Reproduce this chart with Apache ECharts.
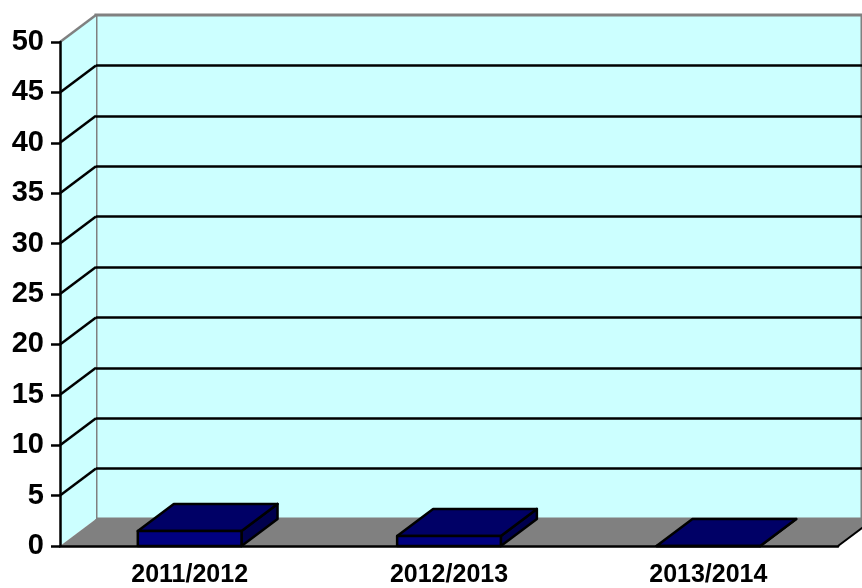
<html lang="en">

<head>
  <meta charset="UTF-8">
  <title>Chart</title>
  <style>
    body { margin: 0; background: #fff; }
    #chart { width: 862px; height: 588px; }
  </style>
</head>

<body>
  <div id="chart"></div>
  <script src="https://cdn.jsdelivr.net/npm/echarts@6.0.0/dist/echarts.min.js"></script>
  <script>
    // data
    const categories = ['2011/2012', '2012/2013', '2013/2014']
    const values = [1.5, 1.0, 0]
    const yTicks = [0, 5, 10, 15, 20, 25, 30, 35, 40, 45, 50]

    // depth offset of the fake 3d box
    const DX = 36
    const DY = -27
    const LW = 2.5
    const FONT = '"Liberation Sans", Arial, sans-serif'

    function renderFrame(params, api) {
      const cs = params.coordSys
      const v = api.value(1)
      const y = api.coord([0, v])[1]
      const x0 = cs.x
      const children = []
      if (params.dataIndex === 0) {
        const yTop = api.coord([0, yTicks[yTicks.length - 1]])[1]
        const right = cs.x + cs.width
        // left side wall
        children.push({
          type: 'polygon',
          shape: { points: [[x0, yTop], [x0 + DX, yTop + DY], [x0 + DX, y + DY], [x0, y]] },
          style: { fill: '#CCFFFF' }
        })
        // floor
        children.push({
          type: 'polygon',
          shape: { points: [[x0, y], [x0 + DX, y + DY], [right + DX, y + DY], [right, y]] },
          style: { fill: '#808080' }
        })
        children.push({
          type: 'line',
          shape: { x1: right, y1: y, x2: right + DX, y2: y + DY },
          style: { stroke: '#000', lineWidth: 2 }
        })
      } else {
        const last = params.dataIndex === yTicks.length - 1
        children.push({
          type: 'line',
          shape: { x1: x0, y1: y, x2: x0 + DX, y2: y + DY },
          style: { stroke: last ? '#808080' : '#000', lineWidth: LW }
        })
      }
      return { type: 'group', children }
    }

    function renderBar(params, api) {
      const i = api.value(0)
      const top = api.coord([i, api.value(1)])
      const base = api.coord([i, 0])
      const w = api.size([1, 0])[0] * 0.4
      const xl = top[0] - w / 2
      const xr = top[0] + w / 2
      const yt = top[1]
      const yb = base[1]
      const edge = { stroke: '#000', lineWidth: LW, lineJoin: 'round' }
      return {
        type: 'group',
        children: [
          {
            type: 'polygon',
            shape: { points: [[xr, yt], [xr + DX, yt + DY], [xr + DX, yb + DY], [xr, yb]] },
            style: Object.assign({ fill: '#00004D' }, edge)
          },
          {
            type: 'polygon',
            shape: { points: [[xl, yt], [xl + DX, yt + DY], [xr + DX, yt + DY], [xr, yt]] },
            style: Object.assign({ fill: '#000066' }, edge)
          },
          {
            type: 'rect',
            shape: { x: xl, y: yt, width: w, height: yb - yt },
            style: Object.assign({ fill: '#000080' }, edge)
          }
        ]
      }
    }

    const chart = echarts.init(document.querySelector('#chart'))
    const option = {
      animation: false,
      grid: [
        { left: 60, top: 42, width: 778, height: 504 },
        {
          left: 60 + DX, top: 42 + DY, width: 778, height: 504,
          show: true, backgroundColor: '#CCFFFF', borderColor: '#808080', borderWidth: 3
        }
      ],
      xAxis: [
        {
          type: 'category',
          gridIndex: 0,
          data: categories,
          z: 10,
          axisLine: { lineStyle: { color: '#000', width: LW } },
          axisTick: { length: 9, lineStyle: { color: '#000', width: LW } },
          axisLabel: {
            color: '#000', fontSize: 25, fontWeight: 'bold', fontFamily: FONT, margin: 17
          }
        },
        {
          type: 'category',
          gridIndex: 1,
          data: categories,
          axisLine: { show: false },
          axisTick: { show: false },
          axisLabel: { show: false }
        }
      ],
      yAxis: [
        {
          type: 'value',
          gridIndex: 0,
          min: 0,
          max: 50,
          interval: 5,
          z: 10,
          axisLine: { show: true, lineStyle: { color: '#000', width: LW } },
          axisTick: { show: true, length: 9, lineStyle: { color: '#000', width: LW } },
          axisLabel: {
            color: '#000', fontSize: 29, fontWeight: 'bold', fontFamily: FONT, margin: 16
          },
          splitLine: { show: false }
        },
        {
          type: 'value',
          gridIndex: 1,
          min: 0,
          max: 50,
          interval: 5,
          axisLine: { show: false },
          axisTick: { show: false },
          axisLabel: { show: false },
          splitLine: {
            show: true,
            showMinLine: false,
            showMaxLine: false,
            lineStyle: { color: '#000', width: LW }
          }
        }
      ],
      series: [
        {
          type: 'custom',
          xAxisIndex: 0,
          yAxisIndex: 0,
          z: 1,
          silent: true,
          renderItem: renderFrame,
          data: yTicks.map(v => [0, v])
        },
        {
          type: 'custom',
          xAxisIndex: 0,
          yAxisIndex: 0,
          z: 3,
          renderItem: renderBar,
          data: values.map((v, i) => [i, v])
        }
      ]
    }
    chart.setOption(option)
  </script>
</body>

</html>
